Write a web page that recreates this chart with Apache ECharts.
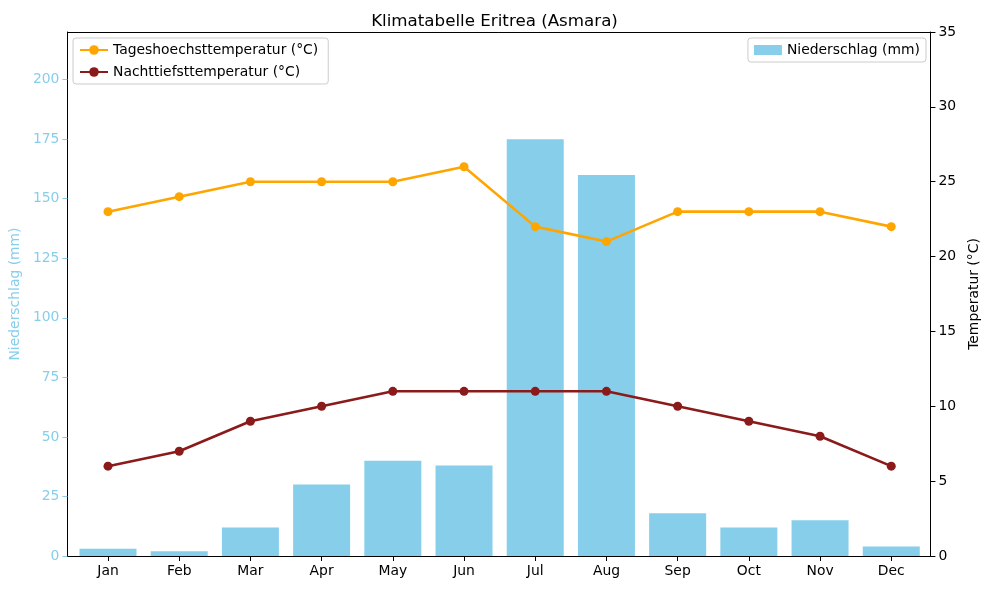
<!DOCTYPE html>
<html><head><meta charset="utf-8">
<script src="https://cdn.jsdelivr.net/npm/echarts@6/dist/echarts.min.js"></script>
<style>html,body{margin:0;padding:0;background:#fff}#c{width:989px;height:590px}</style>
</head><body><div id="c"></div>
<script>
const months = ['Jan','Feb','Mar','Apr','May','Jun','Jul','Aug','Sep','Oct','Nov','Dec'];
const precipitation = [3, 2, 12, 30, 40, 38, 175, 160, 18, 12, 15, 4];
const tempHigh = [23, 24, 25, 25, 25, 26, 22, 21, 23, 23, 23, 22];
const tempLow = [6, 7, 9, 10, 11, 11, 11, 11, 10, 9, 8, 6];
const leftTicks = [0, 25, 50, 75, 100, 125, 150, 175, 200];

const F = 'DejaVu Sans';
const FS = 13.9;
const sky = '#87CEEB';
const idx = months.map((m, i) => i);
const chart = echarts.init(document.getElementById('c'));
chart.setOption({
  animation: false,
  textStyle: { fontFamily: F },
  title: { text: 'Klimatabelle Eritrea (Asmara)', left: 'center', top: 8,
    textStyle: { fontFamily: F, fontSize: 16.7, fontWeight: 'normal', color: '#000' } },
  grid: { left: 67, right: 56, top: 32, bottom: 34 },
  legend: [
    { data: ['Tageshoechsttemperatur (°C)', 'Nachttiefsttemperatur (°C)'],
      orient: 'vertical', left: 73, top: 38, itemGap: 8, itemWidth: 28, itemHeight: 12,
      padding: [5, 10, 5, 6], borderColor: '#ccc', borderWidth: 1, borderRadius: 3,
      backgroundColor: 'rgba(255,255,255,0.8)',
      textStyle: { fontFamily: F, fontSize: FS, color: '#000' } },
    { data: [{ name: 'Niederschlag (mm)', icon: 'rect' }], right: 63, top: 38, itemWidth: 28, itemHeight: 10,
      padding: [5, 6, 5, 6], borderColor: '#ccc', borderWidth: 1, borderRadius: 3,
      backgroundColor: 'rgba(255,255,255,0.8)',
      textStyle: { fontFamily: F, fontSize: FS, color: '#000' } }
  ],
  xAxis: [
    { type: 'value', min: -0.57, max: 11.55, position: 'bottom',
      axisLine: { show: true, onZero: false, lineStyle: { color: '#000' } },
      axisTick: { show: true, customValues: idx, length: 5, lineStyle: { color: '#000' } },
      axisLabel: { show: true, customValues: idx, formatter: v => months[Math.round(v)],
        fontFamily: F, fontSize: FS, color: '#000', margin: 8 },
      splitLine: { show: false } },
    { type: 'value', min: -0.57, max: 11.55, position: 'top',
      axisLine: { show: true, onZero: false, lineStyle: { color: '#000' } },
      axisTick: { show: false }, axisLabel: { show: false }, splitLine: { show: false } }
  ],
  yAxis: [
    { type: 'value', min: 0, max: 220, position: 'left',
      name: 'Niederschlag (mm)', nameLocation: 'middle', nameGap: 43, nameRotate: 90,
      nameTextStyle: { fontFamily: F, fontSize: FS, color: sky },
      axisLine: { show: true, onZero: false, lineStyle: { color: '#000' } },
      axisTick: { show: true, customValues: leftTicks, length: 5, lineStyle: { color: sky } },
      axisLabel: { customValues: leftTicks, fontFamily: F, fontSize: FS, color: sky, margin: 8 },
      splitLine: { show: false } },
    { type: 'value', min: 0, max: 35, interval: 5, position: 'right',
      name: 'Temperatur (°C)', nameLocation: 'middle', nameGap: 31, nameRotate: 90,
      nameTextStyle: { fontFamily: F, fontSize: FS, color: '#000' },
      axisLine: { show: true, onZero: false, lineStyle: { color: '#000' } },
      axisTick: { show: true, length: 5, lineStyle: { color: '#000' } },
      axisLabel: { fontFamily: F, fontSize: FS, color: '#000', margin: 8 },
      splitLine: { show: false } }
  ],
  series: [
    { name: 'Niederschlag (mm)', type: 'bar', xAxisIndex: 0, yAxisIndex: 0,
      data: precipitation.map((v, i) => [i, v]), barWidth: 57,
      itemStyle: { color: sky }, z: 1 },
    { name: 'Tageshoechsttemperatur (°C)', type: 'line', xAxisIndex: 0, yAxisIndex: 1,
      data: tempHigh.map((v, i) => [i, v]), symbol: 'circle', symbolSize: 9,
      lineStyle: { color: '#FFA500', width: 2.6 }, itemStyle: { color: '#FFA500' }, z: 3 },
    { name: 'Nachttiefsttemperatur (°C)', type: 'line', xAxisIndex: 0, yAxisIndex: 1,
      data: tempLow.map((v, i) => [i, v]), symbol: 'circle', symbolSize: 9,
      lineStyle: { color: '#8B1A1A', width: 2.6 }, itemStyle: { color: '#8B1A1A' }, z: 3 }
  ]
});
</script></body></html>
